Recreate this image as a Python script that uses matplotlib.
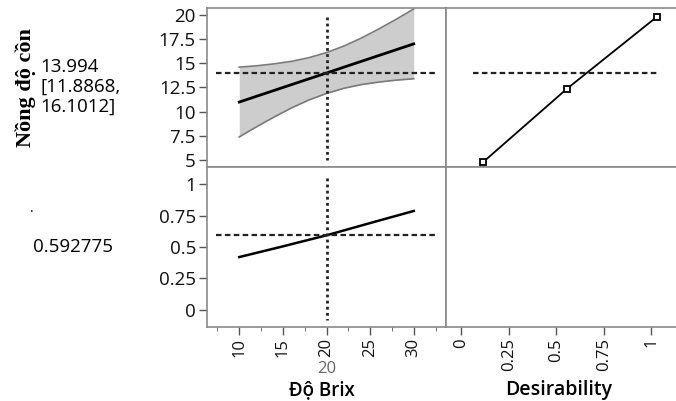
import matplotlib.pyplot as plt
from matplotlib.ticker import MultipleLocator

plt.rcParams.update({
    "font.family": ["Open Sans", "DejaVu Sans"],
    "font.size": 10,
})

# profiler data
brix = [10, 12, 14, 16, 18, 20, 22, 24, 26, 28, 30]
pred = [11.0, 11.6, 12.2, 12.8, 13.4, 13.994, 14.6, 15.2, 15.8, 16.4, 17.0]
upper = [14.6, 14.74, 14.94, 15.2, 15.58, 16.1012, 16.78, 17.6, 18.54, 19.54, 20.6]
lower = [7.4, 8.46, 9.46, 10.4, 11.22, 11.8868, 12.42, 12.8, 13.06, 13.26, 13.4]

des_brix = [10, 15, 20, 25, 30]
des_vals = [0.42, 0.505, 0.592775, 0.69, 0.786]

# desirability function (desirability on x, response on y)
dfun_x = [0.115, 0.555, 1.03]
dfun_y = [4.8, 12.35, 19.8]

current_x = 20
current_y = 13.994
current_d = 0.592775

W, H = 676, 401
fig = plt.figure(figsize=(W / 100, H / 100), dpi=100)

def box(x0, y0, x1, y1):
    return [x0 / W, 1 - y1 / H, (x1 - x0) / W, (y1 - y0) / H]

axTL = fig.add_axes(box(207, 8, 446, 167))
axTR = fig.add_axes(box(446, 8, 676, 167))
axBL = fig.add_axes(box(207, 167, 446, 327))
axBR = fig.add_axes(box(446, 167, 676, 327))

edge = "#8a8a8a"
for ax in (axTL, axTR, axBL, axBR):
    for s in ax.spines.values():
        s.set_color(edge)
        s.set_linewidth(1.2)
    ax.tick_params(colors="#555555", labelcolor="#111111", length=6, width=1,
                   pad=2)
    ax.tick_params(axis="y", labelsize=13.5)
    ax.tick_params(axis="x", labelsize=12)
for ax in (axTR, axBR):
    ax.spines["right"].set_visible(False)

# limits
for ax in (axTL, axBL):
    ax.set_xlim(6.3, 33.7)
for ax in (axTR, axBR):
    ax.set_xlim(-0.08, 1.13)
for ax in (axTL, axTR):
    ax.set_ylim(4.3, 20.7)
for ax in (axBL, axBR):
    ax.set_ylim(-0.135, 1.135)

# top-left: prediction with confidence band
axTL.fill_between(brix, lower, upper, color="#cdcdcd", lw=0)
axTL.plot(brix, upper, color="#7a7a7a", lw=1.2)
axTL.plot(brix, lower, color="#7a7a7a", lw=1.2)
axTL.plot(brix, pred, color="black", lw=2)
axTL.plot([7.3, 32.4], [current_y, current_y], color="#222222", lw=1.6,
          ls=(0, (2.5, 1.5)))
axTL.plot([current_x, current_x], [19.8, 5.0], color="#222222", lw=2,
          ls=(0, (1, 1.2)))

# top-right: desirability function
axTR.plot(dfun_x, dfun_y, color="black", lw=1.3, marker="s", ms=5,
          mfc="white", mec="black", mew=1.3)
axTR.plot([0.06, 1.04], [current_y, current_y], color="#222222", lw=1.6,
          ls=(0, (2.5, 1.5)))

# bottom-left: desirability trace
axBL.plot(des_brix, des_vals, color="black", lw=1.8)
axBL.plot([7.3, 32.4], [current_d, current_d], color="#222222", lw=1.6,
          ls=(0, (2.5, 1.5)))
axBL.plot([current_x, current_x], [1.05, -0.08], color="#222222", lw=2,
          ls=(0, (1, 1.2)))

# ticks
axTL.set_yticks([5, 7.5, 10, 12.5, 15, 17.5, 20])
axTL.set_yticklabels(["5", "7.5", "10", "12.5", "15", "17.5", "20"])
axBL.set_yticks([0, 0.25, 0.5, 0.75, 1])
axBL.set_yticklabels(["0", "0.25", "0.5", "0.75", "1"])
axTR.set_yticks([])
axBR.set_yticks([])
axTL.set_xticks([])
axTR.set_xticks([])

axBL.set_xticks([10, 15, 20, 25, 30])
axBL.xaxis.set_minor_locator(MultipleLocator(2.5))
axBL.tick_params(axis="x", which="minor", length=3, colors="#555555")
axBL.set_xticklabels(["10", "15", "20", "25", "30"], rotation=90)
axBR.set_xticks([0, 0.25, 0.5, 0.75, 1])
axBR.set_xticklabels(["0", "0.25", "0.5", "0.75", "1"], rotation=90)

# text
fig.text(26 / W, 1 - 88 / H, "Nồng độ cồn", rotation=90, ha="center",
         va="center", fontsize=16, fontweight="bold",
         family=["Liberation Serif", "DejaVu Serif"])
fig.text(40 / W, 1 - 87 / H, "13.994\n[11.8868,\n16.1012]", ha="left",
         va="center", fontsize=13.5, linespacing=1.15)
fig.text(33 / W, 1 - 247 / H, "0.592775", ha="left", va="center",
         fontsize=13.5)
fig.text(32 / W, 1 - 208 / H, ".", ha="center", va="center", fontsize=10)

fig.text(327 / W, 1 - 369 / H, "20", ha="center", va="center", fontsize=12,
         color="#666666")
fig.text(322 / W, 1 - 390 / H, "Độ Brix", ha="center", va="center",
         fontsize=13.5, fontweight="semibold")
fig.text(559 / W, 1 - 390 / H, "Desirability", ha="center", va="center",
         fontsize=14, fontweight="semibold")

fig.savefig("out.png", dpi=100, facecolor="white")
